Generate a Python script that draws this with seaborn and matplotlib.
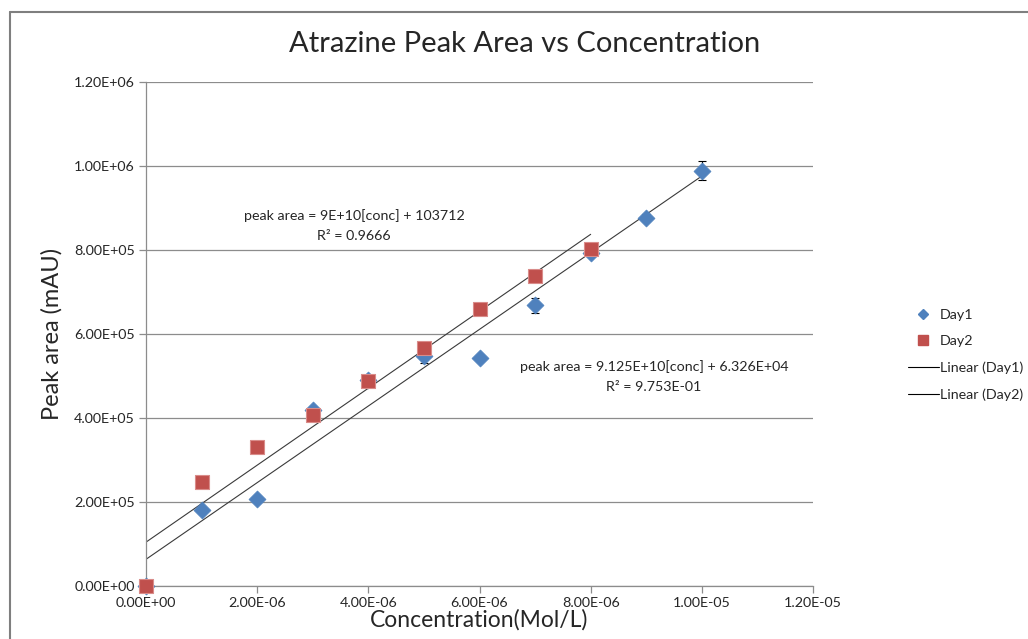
import numpy as np
import pandas as pd
import matplotlib
matplotlib.use("Agg")
import matplotlib.pyplot as plt
from matplotlib.lines import Line2D
from matplotlib.ticker import FuncFormatter, MultipleLocator
import seaborn as sns

# data
day1_conc = [0, 1e-6, 2e-6, 3e-6, 4e-6, 5e-6, 6e-6, 7e-6, 8e-6, 9e-6, 1e-5]
day1_area = [0, 182000, 206000, 420000, 491000, 547000, 544000, 668000, 794000, 877000, 989000]
day1_err = [0, 3000, 4000, 6000, 8000, 16000, 5000, 18000, 6000, 8000, 22000]

day2_conc = [0, 1e-6, 2e-6, 3e-6, 4e-6, 5e-6, 6e-6, 7e-6, 8e-6]
day2_area = [0, 248000, 330000, 406000, 489000, 566000, 659000, 737000, 803000]

eq_day2 = ["peak area = 9E+10[conc] + 103712", "R² = 0.9666"]
eq_day1 = ["peak area = 9.125E+10[conc] + 6.326E+04", "R² = 9.753E-01"]

blue = "#4F81BD"
red = "#C0504D"
grey = "#8c8c8c"

df1 = pd.DataFrame({"conc": day1_conc, "area": day1_area})
df2 = pd.DataFrame({"conc": day2_conc, "area": day2_area})

sns.set_style("white")
plt.rcParams["font.family"] = ["Lato", "DejaVu Sans"]

fig = plt.figure(figsize=(10.28, 6.39), dpi=100)
ax = fig.add_axes([146 / 1028, 1 - 586 / 639, 667 / 1028, 504 / 639])

# trendlines (linear fits)
sns.regplot(data=df1, x="conc", y="area", ax=ax, scatter=False, ci=None, truncate=True,
            line_kws={"color": "#3a3a3a", "lw": 0.8})
sns.regplot(data=df2, x="conc", y="area", ax=ax, scatter=False, ci=None, truncate=True,
            line_kws={"color": "#3a3a3a", "lw": 0.8})

ax.errorbar(day1_conc, day1_area, yerr=day1_err, fmt="none", ecolor="black",
            elinewidth=0.8, capsize=3, capthick=0.8, zorder=3)
sns.scatterplot(data=df1, x="conc", y="area", ax=ax, marker="D", s=75, color=blue,
                edgecolor=blue, linewidth=0.5, zorder=4, clip_on=False)
sns.scatterplot(data=df2, x="conc", y="area", ax=ax, marker="s", s=110, color=red,
                edgecolor="#d98c8a", linewidth=0.8, zorder=5, clip_on=False)

ax.set_xlim(0, 1.2e-5)
ax.set_ylim(0, 1.2e6)
ax.xaxis.set_major_locator(MultipleLocator(2e-6))
ax.yaxis.set_major_locator(MultipleLocator(2e5))
ax.xaxis.set_major_formatter(FuncFormatter(lambda v, p: f"{v:.2E}"))
ax.yaxis.set_major_formatter(FuncFormatter(lambda v, p: f"{v:.2E}"))
ax.tick_params(axis="both", labelsize=10.3, length=5, width=0.9, color=grey,
               direction="out", bottom=True, left=True, pad=3)
ax.grid(axis="y", color=grey, lw=0.9)
ax.set_axisbelow(True)
for s in ["top", "right"]:
    ax.spines[s].set_visible(False)
for s in ["left", "bottom"]:
    ax.spines[s].set_color(grey)
    ax.spines[s].set_linewidth(0.9)
ax.margins(0)

ax.set_xlabel("Concentration(Mol/L)", fontsize=16.5, labelpad=0)
ax.set_ylabel("Peak area (mAU)", fontsize=17, labelpad=8)
fig.text(525 / 1028, 1 - 44 / 639, "Atrazine Peak Area vs Concentration",
         fontsize=21, ha="center", va="center")

ax.text(354 / 1028, 1 - 216 / 639, eq_day2[0], transform=fig.transFigure,
        fontsize=10.3, ha="center", va="center")
ax.text(354 / 1028, 1 - 236 / 639, eq_day2[1], transform=fig.transFigure,
        fontsize=10.3, ha="center", va="center")
ax.text(654 / 1028, 1 - 367 / 639, eq_day1[0], transform=fig.transFigure,
        fontsize=10.3, ha="center", va="center")
ax.text(654 / 1028, 1 - 387 / 639, eq_day1[1], transform=fig.transFigure,
        fontsize=10.3, ha="center", va="center")

handles = [
    Line2D([], [], ls="none", marker="D", color=blue, markersize=5.5),
    Line2D([], [], ls="none", marker="s", color=red, markersize=7),
    Line2D([], [], color="black", lw=0.8),
    Line2D([], [], color="black", lw=0.8),
]
fig.legend(handles, ["Day1", "Day2", "Linear (Day1)", "Linear (Day2)"],
           loc="center left", bbox_to_anchor=(902 / 1028, 1 - 355 / 639),
           frameon=False, fontsize=10.3, handlelength=2.2, handletextpad=0.05,
           labelspacing=1.0, borderaxespad=0)

# outer chart border (partly outside the image)
fig.add_artist(Line2D([10 / 1028, 1.0], [1 - 12 / 639, 1 - 12 / 639],
                      transform=fig.transFigure, color="#7f7f7f", lw=1.5))
fig.add_artist(Line2D([10 / 1028, 10 / 1028], [0.0, 1 - 12 / 639],
                      transform=fig.transFigure, color="#7f7f7f", lw=1.5))

fig.savefig("out.png", dpi=100, facecolor="white")
